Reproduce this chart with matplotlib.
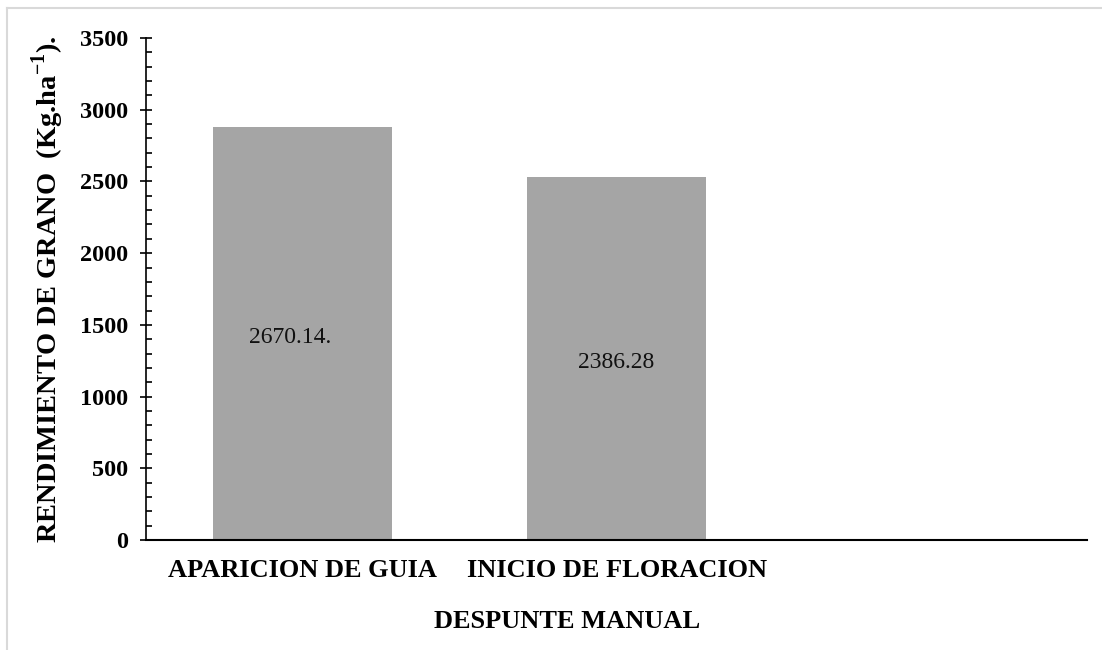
import matplotlib.pyplot as plt
from matplotlib.lines import Line2D
from matplotlib.ticker import MultipleLocator

plt.rcParams['font.family'] = ['Liberation Serif', 'DejaVu Serif']
plt.rcParams['mathtext.fontset'] = 'custom'
plt.rcParams['mathtext.rm'] = 'Liberation Serif'
plt.rcParams['mathtext.bf'] = 'Liberation Serif:bold'

# data
categories = ["APARICION DE GUIA", "INICIO DE FLORACION", ""]
rendimiento = [2880, 2530]
etiquetas = ["2670.14.", "2386.28"]

fig = plt.figure(figsize=(11.02, 6.5), dpi=100)
ax = fig.add_axes([0.1325, 0.1692, 0.854, 0.7723])

x = list(range(len(categories)))
bars = ax.bar(x[:len(rendimiento)], rendimiento, width=0.57, color="#a5a5a5")

# value labels inside the bars
shifts = [-0.04, 0.0]
for b, lab, dx in zip(bars, etiquetas, shifts):
    ax.text(b.get_x() + b.get_width() / 2 + dx, b.get_height() * 0.49, lab,
            ha="center", va="center", fontsize=17, color="#111111")

ax.set_xlim(-0.5, len(categories) - 0.5)
ax.set_ylim(0, 3500)
ax.set_xticks(x)
ax.set_xticklabels(categories, fontsize=19, fontweight="bold")
ax.tick_params(axis="x", length=0, pad=14)

ax.yaxis.set_major_locator(MultipleLocator(500))
ax.yaxis.set_minor_locator(MultipleLocator(100))
ax.tick_params(axis="y", which="major", direction="inout", length=8, width=1.2,
               labelsize=17.5, pad=9)
ax.tick_params(axis="y", which="minor", direction="in", length=4.3, width=1.2)
for t in ax.get_yticklabels():
    t.set_fontweight("bold")

ax.spines["top"].set_visible(False)
ax.spines["right"].set_visible(False)
ax.spines["left"].set_linewidth(1.2)
ax.spines["bottom"].set_linewidth(1.5)

ax.set_ylabel(r"RENDIMIENTO DE GRANO  (Kg.ha$^{\mathbf{-1}}$).", fontsize=20.5,
              fontweight="bold", labelpad=10)
fig.text(567 / 1102, 1 - 622 / 650, "DESPUNTE MANUAL", ha="center", va="center",
         fontsize=19, fontweight="bold")

# light frame around the chart area
fig.add_artist(Line2D([7 / 1102, 7 / 1102], [0, 1 - 8 / 650], transform=fig.transFigure,
                      color="#d9d9d9", linewidth=1.5))
fig.add_artist(Line2D([7 / 1102, 1], [1 - 8 / 650, 1 - 8 / 650], transform=fig.transFigure,
                      color="#d9d9d9", linewidth=1.5))

fig.savefig("out.png", dpi=100)
